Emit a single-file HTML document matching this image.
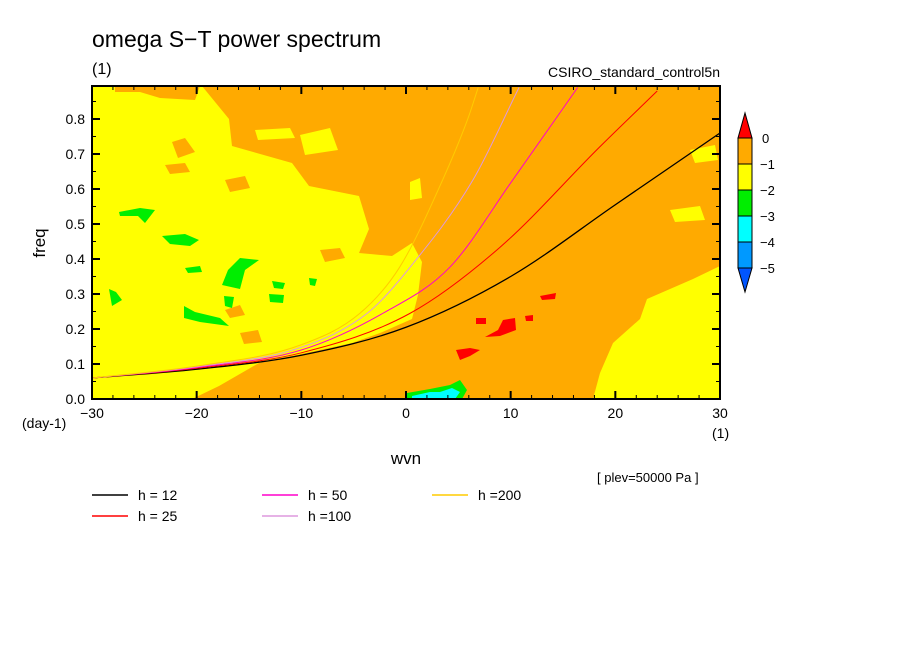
<!DOCTYPE html>
<html><head><meta charset="utf-8"><style>
body{margin:0;background:#fff}
text{font-family:"Liberation Sans",sans-serif;fill:#000}
</style></head><body>
<svg id="chart" width="904" height="654" viewBox="0 0 904 654" xmlns="http://www.w3.org/2000/svg">
<rect width="904" height="654" fill="#fff"/>
<text x="92" y="47" font-size="23">omega S−T power spectrum</text>
<text x="92" y="74" font-size="16">(1)</text>
<text x="720" y="77" font-size="14" text-anchor="end">CSIRO_standard_control5n</text>
<g id="plot">
<rect x="92" y="86" width="628" height="313" fill="#ffaa00"/>
<g id="shade">
<polygon fill="#ffff00" points="92,86 202,86 229,119 232,146 292,163 309,186 359,196 369,229 359,253 392,256 412,243 422,262 418,295 412,319 380,333 352,343 259,363 219,386 192,399 92,399"/>
<polygon fill="#ffff00" points="720,266 693,279 647,299 640,319 613,343 600,373 593,399 720,399"/>
<polygon fill="#ffaa00" points="115,86 200,86 195,100 160,98 140,92 115,92"/>
<polygon fill="#ffaa00" points="172,142 185,138 195,152 178,158"/>
<polygon fill="#ffaa00" points="165,165 185,163 190,172 170,174"/>
<polygon fill="#ffaa00" points="225,180 245,176 250,188 230,192"/>
<polygon fill="#ffaa00" points="225,310 240,305 245,315 230,318"/>
<polygon fill="#ffaa00" points="320,250 340,248 345,258 325,262"/>
<polygon fill="#ffaa00" points="240,333 258,330 262,342 244,344"/>
<polygon fill="#ffff00" points="255,130 290,128 295,138 258,140"/>
<polygon fill="#ffff00" points="300,135 330,128 338,150 305,155"/>
<polygon fill="#ffff00" points="410,182 420,178 422,198 410,200"/>
<polygon fill="#ffff00" points="690,150 715,145 718,160 695,163"/>
<polygon fill="#ffff00" points="670,210 700,206 705,220 675,222"/>
<polygon fill="#00ee00" points="119,212 140,208 155,210 145,223 138,216 120,216"/>
<polygon fill="#00ee00" points="162,236 185,234 199,240 190,246 170,244"/>
<polygon fill="#00ee00" points="240,258 259,260 245,270 240,289 222,285 228,270"/>
<polygon fill="#00ee00" points="184,306 195,312 220,318 229,326 200,322 184,318"/>
<polygon fill="#00ee00" points="109,289 116,292 122,300 112,306"/>
<polygon fill="#00ee00" points="224,296 234,297 232,308 225,306"/>
<polygon fill="#00ee00" points="269,294 284,295 283,303 270,302"/>
<polygon fill="#00ee00" points="272,281 285,283 283,289 274,288"/>
<polygon fill="#00ee00" points="309,278 317,279 315,286 310,285"/>
<polygon fill="#00ee00" points="185,268 200,266 202,272 188,273"/>
<polygon fill="#00ee00" points="407,393 430,389 450,385 460,380 467,390 462,399 407,399"/>
<polygon fill="#00ffff" points="412,396 430,392 440,392 452,388 460,392 455,399 412,399"/>
<polygon fill="#ff0000" points="503,320 515,318 516,330 500,336 485,337 498,330"/>
<polygon fill="#ff0000" points="456,350 470,348 480,350 470,356 460,360"/>
<polygon fill="#ff0000" points="540,296 556,293 555,299 542,300"/>
<polygon fill="#ff0000" points="525,316 533,315 533,321 526,321"/>
<polygon fill="#ff0000" points="476,318 486,318 486,324 476,324"/>
</g>
<g id="curves"></g>
<rect x="92" y="86" width="628" height="313" fill="none" stroke="#000" stroke-width="2"/>
<g id="axes"></g>
</g>
<text x="45" y="243" font-size="17" text-anchor="middle" transform="rotate(-90 45 243)">freq</text>
<text x="22" y="428" font-size="14">(day-1)</text>
<text x="712" y="438" font-size="14">(1)</text>
<text x="406" y="464" font-size="17" text-anchor="middle">wvn</text>
<text x="597" y="482" font-size="13">[ plev=50000 Pa ]</text>
<g id="colorbar">
<polygon points="738,138 745,113 752,138" fill="#ff0000" stroke="#000"/>
<rect x="738" y="138" width="14" height="26" fill="#ffaa00" stroke="#000"/>
<rect x="738" y="164" width="14" height="26" fill="#ffff00" stroke="#000"/>
<rect x="738" y="190" width="14" height="26" fill="#00ee00" stroke="#000"/>
<rect x="738" y="216" width="14" height="26" fill="#00ffff" stroke="#000"/>
<rect x="738" y="242" width="14" height="26" fill="#0099ff" stroke="#000"/>
<polygon points="738,268 745,292 752,268" fill="#0055ff" stroke="#000"/>
<text x="762" y="143" font-size="13">0</text>
<text x="760" y="169" font-size="13">−1</text>
<text x="760" y="195" font-size="13">−2</text>
<text x="760" y="221" font-size="13">−3</text>
<text x="760" y="247" font-size="13">−4</text>
<text x="760" y="273" font-size="13">−5</text>
</g>
<g id="legend"></g>
</svg>
<script>
const xTicks = [-30,-20,-10,0,10,20,30];
const yTicks = [0.0,0.1,0.2,0.3,0.4,0.5,0.6,0.7,0.8];
const seriesNames = ["h = 12","h = 25","h = 50","h =100","h =200"];
const seriesColors = ["#000000","#ff0000","#ff00cc","#dd99dd","#ffcc00"];
const wvnH12 = [-30,-20,-10,0,10,20,30];
const frqH12 = [0.06,0.085,0.125,0.205,0.35,0.555,0.76];
const wvnH25 = [-30,-20,-10,0.4,9,18.5,24];
const frqH25 = [0.06,0.088,0.132,0.245,0.434,0.72,0.88];
const wvnH50 = [-30,-20,-10,-2.2,4.2,10.2,16.4];
const frqH50 = [0.06,0.09,0.14,0.245,0.377,0.626,0.89];
const wvnH100 = [-30,-20,-10,-3.7,0.4,6.4,10.8];
const frqH100 = [0.06,0.092,0.148,0.245,0.377,0.626,0.89];
const wvnH200 = [-30,-20,-10,-4.4,-0.6,3.5,5.9,6.9];
const frqH200 = [0.06,0.094,0.155,0.245,0.377,0.626,0.80,0.89];
const NS="http://www.w3.org/2000/svg";
function xs(v){return 92+(v+30)/60*628;}
function ys(v){return 399-v*350;}
const axes=document.getElementById('axes');
function mk(tag,attrs,parent){const e=document.createElementNS(NS,tag);for(const k in attrs)e.setAttribute(k,attrs[k]);parent.appendChild(e);return e;}
xTicks.forEach(t=>{
  const l=mk('line',{x1:xs(t),x2:xs(t),y1:399,y2:391,stroke:'#000','stroke-width':2},axes);
  
  
  const l2=mk('line',{x1:xs(t),x2:xs(t),y1:86,y2:94,stroke:'#000','stroke-width':2},axes);
  
  
  const tx=mk('text',{x:xs(t),y:418,'font-size':14,'text-anchor':'middle'},axes);
  tx.textContent=(t<0?'−'+(-t):''+t);
  
  
});
for(let t=-28;t<=28;t+=2){if(t%10===0)continue;
  const l=mk('line',{x1:xs(t),x2:xs(t),y1:399,y2:395,stroke:'#000'},axes);
  
  
  const l2=mk('line',{x1:xs(t),x2:xs(t),y1:86,y2:90,stroke:'#000'},axes);
  
  
}
yTicks.forEach(t=>{
  const l=mk('line',{x1:92,x2:100,y1:ys(t),y2:ys(t),stroke:'#000','stroke-width':2},axes);
  
  
  const l2=mk('line',{x1:712,x2:720,y1:ys(t),y2:ys(t),stroke:'#000','stroke-width':2},axes);
  
  
  const tx=mk('text',{x:85,y:ys(t)+5,'font-size':14,'text-anchor':'end'},axes);
  tx.textContent=t.toFixed(1);
  
  
});
for(let t=0.05;t<0.89;t+=0.1){
  const l=mk('line',{x1:92,x2:96,y1:ys(t),y2:ys(t),stroke:'#000'},axes);
  
  
  const l2=mk('line',{x1:716,x2:720,y1:ys(t),y2:ys(t),stroke:'#000'},axes);
  
  
}
function monoPath(X,Y){
  const n=X.length,d=[],m=new Array(n);
  for(let i=0;i<n-1;i++)d.push((Y[i+1]-Y[i])/(X[i+1]-X[i]));
  m[0]=d[0];m[n-1]=d[n-2];
  for(let i=1;i<n-1;i++)m[i]=(d[i-1]*d[i]<=0)?0:(d[i-1]+d[i])/2;
  for(let i=0;i<n-1;i++){if(d[i]===0){m[i]=m[i+1]=0;continue;}
    const a=m[i]/d[i],b=m[i+1]/d[i],s=a*a+b*b;
    if(s>9){const t=3/Math.sqrt(s);m[i]=t*a*d[i];m[i+1]=t*b*d[i];}}
  let p='M'+xs(X[0])+','+ys(Y[0]);
  for(let i=0;i<n-1;i++){const h=X[i+1]-X[i];
    p+=' C'+xs(X[i]+h/3)+','+ys(Y[i]+m[i]*h/3)+' '+xs(X[i+1]-h/3)+','+ys(Y[i+1]-m[i+1]*h/3)+' '+xs(X[i+1])+','+ys(Y[i+1]);}
  return p;
}
const curves=document.getElementById('curves');
const allW=[wvnH12,wvnH25,wvnH50,wvnH100,wvnH200];
const allF=[frqH12,frqH25,frqH50,frqH100,frqH200];
allW.forEach((w,i)=>{
  const p=mk('path',{d:monoPath(w,allF[i]),fill:'none',stroke:seriesColors[i],'stroke-width':i===0?1.3:1},curves);
  
  
});
const leg=document.getElementById('legend');
const lx=[92,92,262,262,432], ly=[495,516,495,516,495];
seriesNames.forEach((n,i)=>{
  const g=mk('g',{},leg);
  
  
  mk('line',{x1:lx[i],x2:lx[i]+36,y1:ly[i],y2:ly[i],stroke:seriesColors[i],'stroke-width':1.5},g);
  const t=mk('text',{x:lx[i]+46,y:ly[i]+5,'font-size':14},g);
  t.textContent=n;
});
</script>
</body></html>
